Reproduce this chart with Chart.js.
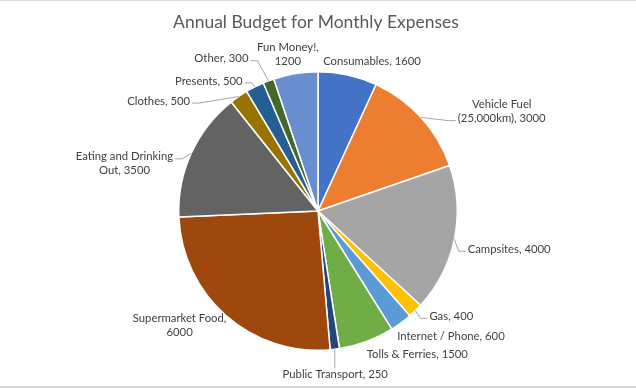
<!DOCTYPE html>
<html><head><meta charset="utf-8">
<script src="https://cdn.jsdelivr.net/npm/chart.js@4"></script>
<style>html,body{margin:0;padding:0;background:#fff;overflow:hidden}#wrap{width:636px;height:388px;position:relative}canvas{display:block}</style>
</head><body><div id="wrap"><canvas id="c" width="636" height="388"></canvas></div>
<script>
const chartTitle = "Annual Budget for Monthly Expenses";
const categories = ["Consumables", "Vehicle Fuel (25,000km)", "Campsites", "Gas", "Internet / Phone", "Tolls & Ferries", "Public Transport", "Supermarket Food", "Eating and Drinking Out", "Clothes", "Presents", "Other", "Fun Money!"];
const values = [1600, 3000, 4000, 400, 600, 1500, 250, 6000, 3500, 500, 500, 300, 1200];
const colors = ["#4472C4", "#ED7D31", "#A5A5A5", "#FFC000", "#5B9BD5", "#70AD47", "#264478", "#9E480E", "#636363", "#997300", "#255E91", "#43682B", "#698ED0"];
// label layout hints (angle clockwise from 12 o'clock, distance in outer radii)
const labelAngle = [19.9, 61.6, 101.3, 128.3, 133.2, 145.2, 174, 230.4, 283.7, 304.6, 320, 327.6, 349.1];
const labelDist = [1.14, 1.5, 1.40, 1.22, 1.31, 1.25, 1.18, 1.29, 1.43, 1.39, 1.22, 1.295, 1.143];
const wrapWidth = [999, 102, 999, 999, 999, 999, 999, 108, 112, 999, 999, 999, 70];
const leaderType = ["none", "side", "side", "side", "none", "none", "bottom", "none", "side", "side", "side", "side", "none"];

const FONT = "Lato, 'Open Sans', sans-serif";

function wrapText(ctx, text, maxW) {
  const words = text.split(" ");
  const lines = [];
  let cur = "";
  for (const w of words) {
    const test = cur ? cur + " " + w : w;
    if (cur && ctx.measureText(test).width > maxW) { lines.push(cur); cur = w; }
    else cur = test;
  }
  if (cur) lines.push(cur);
  return lines;
}

const framePlugin = {
  id: "frame",
  beforeDraw(chart) {
    const ctx = chart.ctx;
    ctx.save();
    ctx.fillStyle = "#fff";
    ctx.fillRect(0, 0, chart.width, chart.height);
    ctx.fillStyle = "#d9d9d9";
    ctx.fillRect(0, 0, chart.width, 1);
    ctx.fillRect(0, chart.height - 2, chart.width, 2);
    ctx.fillStyle = "#595959";
    ctx.font = "17.5px " + FONT;
    ctx.textAlign = "center";
    ctx.textBaseline = "middle";
    ctx.fillText(chartTitle, 316, 22);
    ctx.restore();
  }
};

const labelPlugin = {
  id: "pieLabels",
  afterDatasetsDraw(chart) {
    const ctx = chart.ctx;
    const meta = chart.getDatasetMeta(0);
    ctx.save();
    ctx.font = "11.3px " + FONT;
    const lineH = 14;
    meta.data.forEach((arc, i) => {
      const p = arc.getProps(["x", "y", "startAngle", "endAngle", "outerRadius"], true);
      const mid = (p.startAngle + p.endAngle) / 2;
      const P = { x: p.x + p.outerRadius * Math.cos(mid), y: p.y + p.outerRadius * Math.sin(mid) };
      const la = (labelAngle[i] - 90) * Math.PI / 180;
      const C = { x: p.x + labelDist[i] * p.outerRadius * Math.cos(la), y: p.y + labelDist[i] * p.outerRadius * Math.sin(la) };
      const lines = wrapText(ctx, categories[i] + ", " + values[i], wrapWidth[i]);
      const w = Math.max(...lines.map(l => ctx.measureText(l).width));
      const h = lines.length * lineH;
      const top = C.y - h / 2, left = C.x - w / 2, right = C.x + w / 2;
      const centers = lines.map((l, k) => top + lineH * (k + 0.5));
      // leader line
      ctx.strokeStyle = "#a6a6a6";
      ctx.lineWidth = 1;
      if (leaderType[i] === "side") {
        let ly = centers[0];
        for (const cy of centers) if (Math.abs(cy - P.y) < Math.abs(ly - P.y)) ly = cy;
        ly += 2;
        const onLeft = C.x < P.x;
        const ex = onLeft ? right + 2 : left - 2;
        const elbow = onLeft ? ex + 7 : ex - 7;
        ctx.beginPath();
        ctx.moveTo(P.x, P.y);
        ctx.lineTo(elbow, ly);
        ctx.lineTo(ex, ly);
        ctx.stroke();
      } else if (leaderType[i] === "bottom") {
        ctx.beginPath();
        ctx.moveTo(P.x, P.y);
        ctx.lineTo(P.x, top + 1);
        ctx.stroke();
      }
      ctx.fillStyle = "#404040";
      ctx.textAlign = "center";
      ctx.textBaseline = "middle";
      lines.forEach((l, k) => ctx.fillText(l, C.x, centers[k]));
    });
    ctx.restore();
  }
};

new Chart(document.getElementById("c"), {
  type: "pie",
  data: {
    labels: categories,
    datasets: [{ data: values, backgroundColor: colors, borderColor: "#ffffff", borderWidth: 1.5 }]
  },
  options: {
    responsive: false,
    animation: false,
    devicePixelRatio: 1,
    layout: { padding: { top: 71, bottom: 37, left: 100, right: 100 } },
    plugins: { legend: { display: false }, title: { display: false }, tooltip: { enabled: false } }
  },
  plugins: [framePlugin, labelPlugin]
});
</script></body></html>
